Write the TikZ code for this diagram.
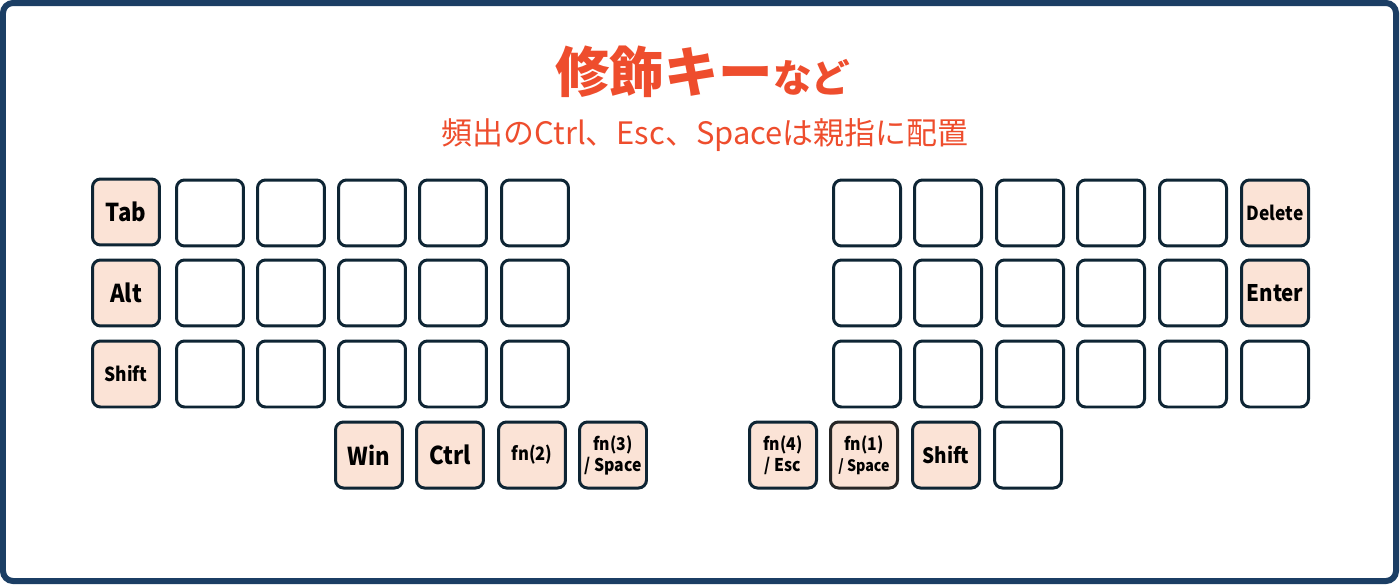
\documentclass[tikz,border=0pt]{standalone}
\usepackage{fontspec}
\setmainfont{Noto Sans CJK JP}
\newfontfamily\keyfont[FakeStretch=0.9]{Noto Sans CJK JP}
\definecolor{frameblue}{RGB}{27,62,100}
\definecolor{keyline}{RGB}{14,37,52}
\definecolor{keyfill}{RGB}{251,227,214}
\definecolor{titlered}{RGB}{238,77,45}
\newcommand\keysize[1]{\fontsize{#1}{1.2\dimexpr#1pt\relax}\selectfont}
\tikzset{
	key/.style={draw=keyline, line width=0.06cm, rounded corners=0.16cm, fill=white,
		minimum width=1.34cm, minimum height=1.32cm, inner sep=0pt, align=center},
	modkey/.style={key, fill=keyfill, font=\keyfont\bfseries},
}
\begin{document}
\begin{tikzpicture}[x=0.02cm, y=-0.02cm]
			%%%%% FRAME %%%%%
			\useasboundingbox (0, 0) rectangle (1400, 585);
			\draw[line width=0.12cm, color=frameblue, rounded corners=0.2cm] (3, 3) rectangle (1396, 581);
			
			%%%%% TITLE %%%%%
			\node[anchor=base, text=titlered, font=\bfseries, inner sep=0pt] (title) at (703, 92)
				{\keysize{31}修飾キー\keysize{22}など};
			\node[anchor=base, text=titlered, inner sep=0pt] (subtitle) at (705, 144)
				{\keysize{17.6}頻出のCtrl、Esc、Spaceは親指に配置};
			
			%%%%% LEFT HALF %%%%%
			\node[modkey] (tab) at (126, 212) {\keysize{14}Tab};
			\node[modkey] (alt) at (126, 293) {\keysize{14}Alt};
			\node[modkey] (lshift) at (126, 374) {\keysize{11}Shift};
			\foreach \x/\c in {210/1, 291/2, 372/3, 453/4, 535/5}
				\foreach \y/\r in {213/1, 293/2, 374/3}
					\node[key] (L\r\c) at (\x, \y) {};
			
			\node[modkey] (win) at (369, 455) {\keysize{14}Win};
			\node[modkey] (ctrl) at (450, 455) {\keysize{14}Ctrl};
			\node[modkey] (fntwo) at (532, 455) {\keysize{10.5}fn(2)};
			\node[modkey] (fnthree) at (613, 455) {\keysize{10}fn(3)\\\keysize{10}/ Space};
			
			%%%%% RIGHT HALF %%%%%
			\foreach \x/\c in {867/0, 948/1, 1030/2, 1111/3, 1193/4}
				\foreach \y/\r in {213/1, 293/2, 374/3}
					\node[key] (R\r\c) at (\x, \y) {};
			\node[modkey] (delete) at (1275, 213) {\keysize{11}Delete};
			\node[modkey] (enter) at (1275, 293) {\keysize{13}Enter};
			\node[key] (R35) at (1275, 374) {};
			
			\node[modkey] (fnfour) at (783, 455) {\keysize{10}fn(4)\\\keysize{10}/ Esc};
			\node[modkey, draw=black!85] (fnone) at (864, 455) {\keysize{10}fn(1)\\\keysize{9}/ Space};
			\node[modkey] (rshift) at (946, 455) {\keysize{12}Shift};
			\node[key] (rthumb) at (1028, 455) {};
			
\end{tikzpicture}
\end{document}
